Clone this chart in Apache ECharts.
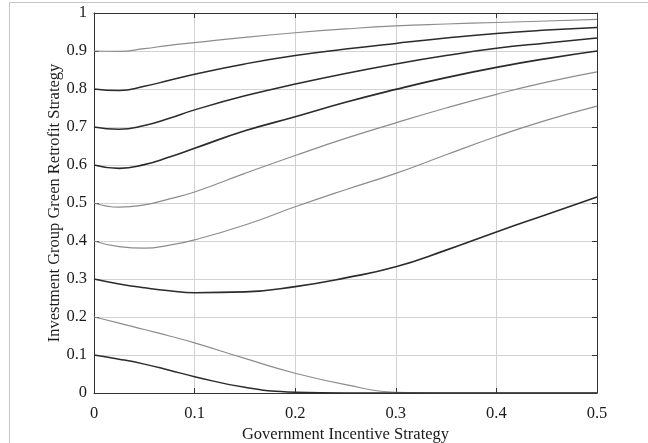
<!DOCTYPE html>
<html>
<head>
<meta charset="utf-8">
<script src="https://cdn.jsdelivr.net/npm/echarts@6/dist/echarts.min.js"></script>
<style>
  html, body { margin: 0; padding: 0; background: #ffffff; }
  #chart { width: 648px; height: 443px; }
</style>
</head>
<body>
<div id="chart"></div>
<script>
// Government incentive level (x) sampled along each trajectory
const incentive = [0, 0.025, 0.05, 0.075, 0.1, 0.15, 0.2, 0.25, 0.3, 0.35, 0.4, 0.45, 0.5];

// Investment group retrofit probability for each initial value
const start09 = [0.900, 0.899, 0.906, 0.915, 0.922, 0.936, 0.948, 0.958, 0.966, 0.971, 0.975, 0.979, 0.983];
const start08 = [0.800, 0.796, 0.807, 0.823, 0.839, 0.866, 0.888, 0.905, 0.920, 0.934, 0.946, 0.955, 0.962];
const start07 = [0.700, 0.694, 0.704, 0.723, 0.745, 0.782, 0.813, 0.841, 0.866, 0.888, 0.907, 0.921, 0.934];
const start06 = [0.600, 0.591, 0.601, 0.621, 0.644, 0.690, 0.727, 0.765, 0.799, 0.830, 0.857, 0.880, 0.900];
const start05 = [0.500, 0.489, 0.495, 0.511, 0.529, 0.578, 0.625, 0.670, 0.711, 0.750, 0.786, 0.818, 0.845];
const start04 = [0.400, 0.385, 0.381, 0.389, 0.403, 0.442, 0.490, 0.535, 0.578, 0.627, 0.675, 0.718, 0.755];
const start03 = [0.300, 0.287, 0.277, 0.269, 0.264, 0.266, 0.280, 0.303, 0.332, 0.376, 0.424, 0.470, 0.516];
const start02 = [0.200, 0.184, 0.167, 0.150, 0.132, 0.091, 0.052, 0.022, 0.002, 0.000, 0.000, 0.000, 0.000];
const start01 = [0.100, 0.089, 0.076, 0.060, 0.043, 0.015, 0.002, 0.000, 0.000, 0.000, 0.000, 0.000, 0.000];

const xTicks = [0, 0.1, 0.2, 0.3, 0.4, 0.5];
const yTicks = [0, 0.1, 0.2, 0.3, 0.4, 0.5, 0.6, 0.7, 0.8, 0.9, 1];

const DARK = '#2b2b2b';
const GRAY = '#8c8c8c';

const curves = [
  { name: '0.9', data: start09, color: GRAY, width: 1.2 },
  { name: '0.8', data: start08, color: DARK, width: 1.5 },
  { name: '0.7', data: start07, color: DARK, width: 1.5 },
  { name: '0.6', data: start06, color: DARK, width: 1.7 },
  { name: '0.5', data: start05, color: GRAY, width: 1.2 },
  { name: '0.4', data: start04, color: GRAY, width: 1.2 },
  { name: '0.3', data: start03, color: DARK, width: 1.6 },
  { name: '0.2', data: start02, color: GRAY, width: 1.2 },
  { name: '0.1', data: start01, color: DARK, width: 1.5 }
];

const FONT = '"Liberation Serif", "Times New Roman", serif';
const labelStyle = { color: '#1a1a1a', fontFamily: FONT, fontSize: 16.5 };

function fmt(v) {
  return String(Math.round(v * 10) / 10);
}

const chart = echarts.init(document.getElementById('chart'), null, { renderer: 'canvas' });

// Top and right axes close the plot box (ticks only, no labels)
const boxAxisCommon = {
  axisLine: { show: true, onZero: false, lineStyle: { color: '#333333', width: 1 } },
  axisTick: { show: true, inside: true, length: 5, lineStyle: { color: '#333333' } },
  axisLabel: { show: false },
  splitLine: { show: false }
};

chart.setOption({
  backgroundColor: '#ffffff',
  animation: false,
  graphic: [{
    type: 'rect',
    silent: true,
    left: 9,
    top: 2,
    z: 100,
    shape: { x: 0, y: 0, width: 700, height: 500 },
    style: { fill: 'transparent', stroke: '#c4c4c4', lineWidth: 1 }
  }],
  grid: { left: 94, right: 51, top: 13, bottom: 50, containLabel: false, outerBoundsMode: 'none' },
  xAxis: [{
    type: 'value',
    min: 0, max: 0.5, interval: 0.1,
    name: 'Government Incentive Strategy',
    nameLocation: 'middle',
    nameGap: 33,
    nameMoveOverlap: false,
    nameTextStyle: labelStyle,
    axisLine: { show: true, onZero: false, lineStyle: { color: '#333333', width: 1 } },
    axisTick: { show: true, inside: true, length: 5, lineStyle: { color: '#333333' } },
    axisLabel: Object.assign({ margin: 12, formatter: fmt }, labelStyle),
    splitLine: { show: true, lineStyle: { color: '#d2d2d2', width: 1 } }
  }, Object.assign({
    type: 'value', position: 'top', min: 0, max: 0.5, interval: 0.1
  }, boxAxisCommon)],
  yAxis: [{
    type: 'value',
    min: 0, max: 1, interval: 0.1,
    name: 'Investment Group Green Retrofit Strategy',
    nameLocation: 'middle',
    nameGap: 31,
    nameMoveOverlap: false,
    nameTextStyle: labelStyle,
    axisLine: { show: true, onZero: false, lineStyle: { color: '#333333', width: 1 } },
    axisTick: { show: true, inside: true, length: 5, lineStyle: { color: '#333333' } },
    axisLabel: Object.assign({ margin: 7, formatter: fmt }, labelStyle),
    splitLine: { show: true, lineStyle: { color: '#d2d2d2', width: 1 } }
  }, Object.assign({
    type: 'value', position: 'right', min: 0, max: 1, interval: 0.1
  }, boxAxisCommon)],
  series: curves.map(c => ({
    type: 'line',
    name: c.name,
    xAxisIndex: 0,
    yAxisIndex: 0,
    data: incentive.map((x, i) => [x, c.data[i]]),
    smooth: 0.5,
    symbol: 'none',
    clip: true,
    lineStyle: { color: c.color, width: c.width }
  }))
});
</script>
</body>
</html>
